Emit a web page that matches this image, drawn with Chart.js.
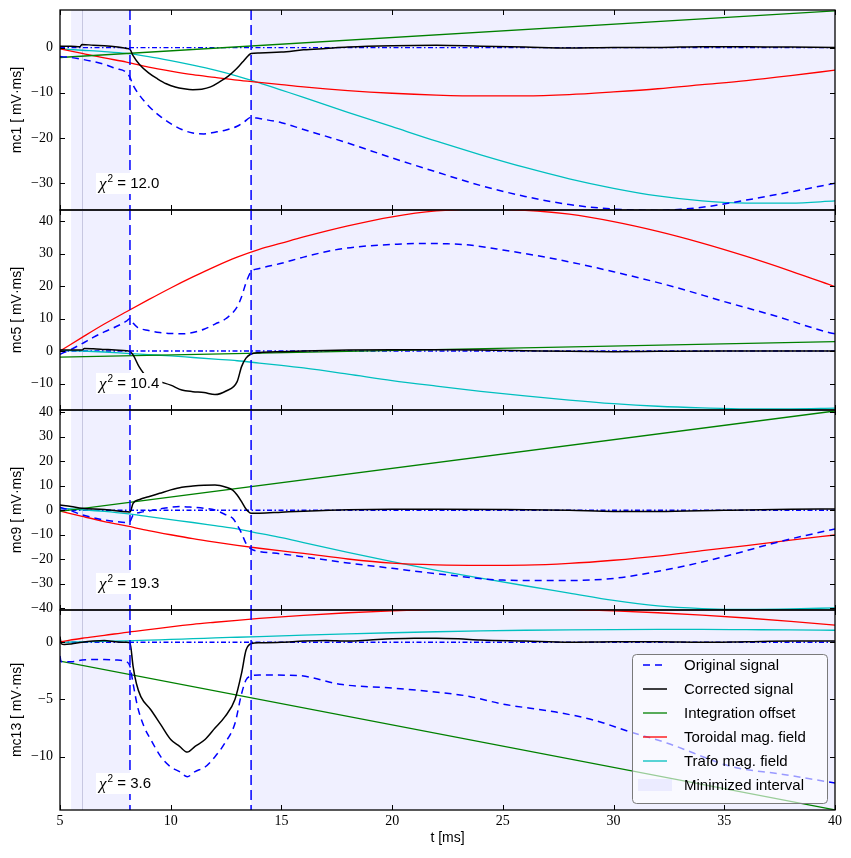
<!DOCTYPE html>
<html><head><meta charset="utf-8">
<script src="https://cdn.jsdelivr.net/npm/chart.js@4.4.1/dist/chart.umd.min.js"></script>
<style>
html,body{margin:0;padding:0;background:#fff;}
#wrap{position:relative;width:851px;height:858px;overflow:hidden;background:#fff;}
canvas{position:absolute;left:0;}
</style></head><body><div id="wrap">
<canvas id="c0" width="851" height="220" style="top:0px"></canvas>
<canvas id="c1" width="851" height="220" style="top:200px"></canvas>
<canvas id="c2" width="851" height="220" style="top:400px"></canvas>
<canvas id="c3" width="851" height="258" style="top:600px"></canvas>
</div>
<script>
// ---------- shared ----------
const timeAxisTicks = [5, 10, 15, 20, 25, 30, 35, 40];
const cutTimes = [8.16, 13.63];
const minimizedIntervals = [[5.5, 8.16], [13.63, 40]];
const intervalEdges = [6.0];
const fitTimes = [5,6,7,8,9,10,11,12,13,14,15,16,18,20,22,24,26,28,30,32,34,36,38,40];
const offsetTimes = [5, 40];
const zeroTimes = [5, 40];
const zeroValues = [0, 0];
const legendLabels = ['Original signal', 'Corrected signal', 'Integration offset', 'Toroidal mag. field', 'Trafo mag. field', 'Minimized interval'];

// ---------- mc1 ----------
const mc1OrigT = [5,5.5,6,6.5,7,7.5,8,8.16,8.3,8.6,9,9.5,10,10.5,11,11.5,12,12.5,13,13.3,13.63,14,15,16,18,20,22,24,26,28,30,32,34,36,38,40];
const mc1Orig = [-2.0,-2.2,-2.6,-3.1,-3.7,-4.6,-5.5,-6.6,-8.3,-10.6,-12.9,-15.1,-16.8,-18.1,-18.9,-19.1,-18.7,-18.2,-17.4,-16.5,-15.4,-15.7,-16.6,-18.1,-21.1,-24.4,-27.5,-30.5,-32.9,-34.7,-35.7,-36.0,-35.3,-33.7,-31.9,-30.0];
const mc1CorrT = [5,5.5,5.9,6.0,6.5,7,7.5,8,8.16,8.3,8.6,9,9.4,9.8,10.2,10.6,11,11.4,11.8,12.2,12.6,12.9,13.1,13.3,13.5,13.63,14,15,16,17,18,20,22,24,26,28,30,32,34,36,38,40];
const mc1Corr = [0.3,0.3,0.2,0.7,0.5,0.4,0.2,-0.2,-0.4,-1.8,-3.8,-5.6,-6.9,-8.0,-8.7,-9.1,-9.3,-9.2,-8.7,-7.6,-6.3,-5.0,-4.0,-2.9,-1.8,-1.3,-1.2,-1.0,-0.5,-0.2,0.1,0.4,0.5,0.3,0.1,-0.1,0.0,0.0,0.2,0.2,0.1,0.0];
const mc1Offset = [-2.2, 8.1];
const mc1Toroidal = [-0.3,-1.3,-2.3,-3.2,-4.3,-5.2,-6.0,-6.6,-7.2,-7.7,-8.2,-8.7,-9.5,-10.1,-10.5,-10.7,-10.7,-10.4,-9.8,-9.1,-8.2,-7.3,-6.2,-5.0];
const mc1Trafo = [-0.3,-0.6,-0.9,-1.3,-2.0,-2.9,-3.9,-5.0,-6.3,-7.8,-9.4,-11.0,-14.3,-17.5,-20.7,-23.7,-26.5,-29.0,-31.1,-32.8,-33.9,-34.4,-34.4,-33.9];
const mc1Ticks = [-30, -20, -10, 0];
const mc1Range = [-35.9, 8.3];

// ---------- mc5 ----------
const mc5OrigT = [5,5.5,6,6.5,7,7.5,8,8.16,8.3,8.5,9,9.5,10,10.5,11,11.5,12,12.5,13,13.2,13.4,13.63,14,15,16,17.4,19,20,21.2,22.5,23.5,25,27.6,30,32.7,35,37.4,39.6,40];
const mc5Orig = [-1.0,0.5,2.3,4.2,5.9,7.4,9.2,10.0,8.6,7.3,6.3,5.7,5.4,5.3,5.7,6.7,8.3,10.0,13.6,16.7,21.0,24.4,25.4,27.0,28.9,31.1,32.4,32.8,33.1,33.0,32.6,31.1,28.0,24.4,19.8,15.2,10.6,5.9,5.3];
const mc5CorrT = [5,5.5,6.0,6.1,6.5,7,7.5,8,8.16,8.3,8.57,8.92,9.5,10,10.5,11,11.5,12,12.5,13,13.2,13.4,13.63,14,15,16,18,20,22,24,26,28,30,32,35,40];
const mc5Corr = [0.3,0.3,0.3,0.8,0.7,0.5,0.3,0.1,-0.2,-1.2,-4.8,-7.9,-9.4,-10.5,-12.0,-12.5,-12.8,-13.4,-12.3,-9.4,-4.8,-2.2,-0.9,-0.5,-0.2,0.0,0.3,0.4,0.4,0.3,0.1,-0.1,-0.2,-0.1,0.0,0.0];
const mc5Offset = [-1.9, 2.9];
const mc5Toroidal = [0,4.2,8.3,12.1,15.8,19.4,22.8,26.0,28.9,31.3,33.2,35.1,38.5,41.3,43.1,43.7,43.3,42.1,39.8,36.8,33.2,29.1,24.6,19.8];
const mc5Trafo = [0.2,0,-0.3,-0.7,-1.1,-1.5,-2.0,-2.5,-3.0,-3.7,-4.4,-5.2,-7.1,-9.1,-10.8,-12.4,-13.8,-15.1,-16.2,-17.0,-17.5,-17.8,-17.8,-17.6];
const mc5Ticks = [-10, 0, 10, 20, 30, 40];
const mc5Range = [-18.15, 43.4];

// ---------- mc9 ----------
const mc9OrigT = [5,5.5,6,6.5,7,7.5,8,8.16,8.3,8.6,9,9.5,10,10.5,11,11.5,12,12.5,12.8,13,13.2,13.4,13.63,14,15,16,18,20,22.5,25,27.6,30,32.7,35,37.5,40];
const mc9Orig = [1.2,-0.2,-1.9,-3.0,-4.0,-4.6,-5.0,-4.6,-2.0,-0.9,-0.3,0.5,1.2,1.5,1.2,0.8,0.1,-1.9,-3.3,-6.0,-9.4,-13.5,-15.8,-16.8,-17.8,-19.0,-21.5,-23.7,-26.4,-28.5,-28.7,-27.8,-23.7,-18.9,-12.8,-7.6];
const mc9CorrT = [5,5.5,6,7,8,8.16,8.3,8.6,9,9.5,10,10.5,11,11.5,12,12.5,12.8,13,13.2,13.4,13.63,14,15,16,18,20,22,25,28,30,32,35,38,40];
const mc9Corr = [2.1,1.5,0.8,0.3,-0.6,-0.7,2.8,4.4,5.5,6.9,8.3,9.4,9.9,10.2,10.3,9.4,8.2,6.2,3.5,0.5,-1.2,-1.2,-0.8,-0.4,0.2,0.4,0.4,0.3,0.0,-0.5,-0.5,0.0,0.4,0.5];
const mc9Offset = [-0.5, 40.5];
const mc9Toroidal = [-0.3,-2.5,-4.6,-6.4,-8.3,-10.0,-11.6,-13.0,-14.3,-15.5,-16.6,-17.6,-19.9,-21.6,-22.3,-22.5,-22.4,-21.7,-20.4,-18.7,-16.5,-14.4,-12.2,-10.1];
const mc9Trafo = [0.8,0.2,-0.5,-1.4,-2.6,-3.8,-5.0,-6.3,-7.6,-9.4,-11.2,-13.2,-17.2,-21.0,-24.5,-27.7,-30.8,-33.8,-36.8,-39.0,-40.1,-40.5,-40.3,-39.8];
const mc9Ticks = [-40, -30, -20, -10, 0, 10, 20, 30, 40];
const mc9Range = [-40.7, 40.9];

// ---------- mc13 ----------
const mc13OrigT = [5,5.05,5.5,6,7,7.5,8,8.16,8.3,8.5,8.8,9.1,9.55,10,10.4,10.75,11.1,11.55,12,12.45,12.9,13.2,13.4,13.65,14,15.7,17.75,20,22.2,23.4,25,27.4,29.1,30.7,32.4,35.4,37.5,40];
const mc13Orig = [-1.2,-1.7,-1.7,-1.55,-1.5,-1.55,-1.7,-2.1,-3.6,-5.6,-7.4,-8.5,-10.0,-10.9,-11.3,-11.75,-11.3,-10.9,-10.0,-8.8,-7.1,-4.5,-3.3,-2.95,-2.86,-2.9,-3.7,-4.0,-4.4,-4.7,-5.4,-6.1,-6.8,-7.8,-8.8,-10.9,-11.5,-12.3];
const mc13CorrT = [5,5.05,5.2,5.5,6,6.5,7,7.5,8,8.16,8.3,8.45,8.65,9.1,9.55,10,10.4,10.75,11.1,11.55,12,12.45,12.9,13.2,13.4,13.65,14,15,16,17,18,19,20,21,22,23,24,26,28,30,32,34,36,38,40];
const mc13Corr = [0.5,-0.1,-0.2,-0.15,0.0,0.1,0.15,0.05,0.0,-0.05,-2.1,-3.6,-4.75,-5.9,-7.2,-8.5,-9.1,-9.6,-9.1,-8.5,-7.5,-6.5,-5.0,-2.7,-0.7,-0.1,-0.05,0.0,0.1,0.15,0.1,0.2,0.3,0.35,0.35,0.3,0.2,0.1,0.0,0.05,0.05,0.0,0.05,0.1,0.1];
const mc13Offset = [-1.64, -14.65];
const mc13Toroidal = [0.05,0.35,0.6,0.87,1.1,1.35,1.57,1.75,1.92,2.08,2.22,2.35,2.58,2.75,2.87,2.93,2.93,2.87,2.75,2.58,2.37,2.12,1.83,1.5];
const mc13Trafo = [0,0.04,0.08,0.12,0.18,0.25,0.31,0.38,0.44,0.5,0.56,0.62,0.73,0.83,0.92,0.99,1.05,1.09,1.11,1.12,1.12,1.1,1.08,1.05];
const mc13Ticks = [-10, -5, 0];
const mc13Range = [-14.66, 2.82];

const panelNames = ['mc1', 'mc5', 'mc9', 'mc13'];
const chi2Values = ['12.0', '10.4', '19.3', '3.6'];

// ---------- styles ----------
const SANS = '"Liberation Sans", Arial, sans-serif';
const SERIF = '"Liberation Serif", "DejaVu Serif", serif';
const SHADE = 'rgba(0,0,255,0.058)';
const C_BLUE = '#0000ff', C_BLACK = '#000000', C_GREEN = '#008000', C_RED = '#ff0000', C_CYAN = '#00bfbf';
const DASH_ORIG = [7, 5];

const panels = [
  {orig:[mc1OrigT, mc1Orig], corr:[mc1CorrT, mc1Corr], off:mc1Offset, tor:mc1Toroidal, tra:mc1Trafo, ticks:mc1Ticks, range:mc1Range},
  {orig:[mc5OrigT, mc5Orig], corr:[mc5CorrT, mc5Corr], off:mc5Offset, tor:mc5Toroidal, tra:mc5Trafo, ticks:mc5Ticks, range:mc5Range},
  {orig:[mc9OrigT, mc9Orig], corr:[mc9CorrT, mc9Corr], off:mc9Offset, tor:mc9Toroidal, tra:mc9Trafo, ticks:mc9Ticks, range:mc9Range},
  {orig:[mc13OrigT, mc13Orig], corr:[mc13CorrT, mc13Corr], off:mc13Offset, tor:mc13Toroidal, tra:mc13Trafo, ticks:mc13Ticks, range:mc13Range}
];

function pts(t, v) { return t.map((x, i) => ({x: x, y: v[i]})); }
function fmt(v) { return v < 0 ? '\u2212' + Math.abs(v) : String(v); }

const shadePlugin = {
  id: 'shade',
  beforeDatasetsDraw(chart) {
    const {ctx, chartArea: a, scales: {x}} = chart;
    ctx.save();
    ctx.beginPath(); ctx.rect(a.left, a.top, a.width, a.height); ctx.clip();
    ctx.fillStyle = SHADE;
    minimizedIntervals.forEach(([s, e]) => {
      const x0 = x.getPixelForValue(s), x1 = x.getPixelForValue(e);
      ctx.fillRect(x0, a.top, x1 - x0, a.height);
    });
    ctx.strokeStyle = 'rgba(120,120,170,0.35)'; ctx.lineWidth = 1;
    intervalEdges.forEach(t => {
      const px = Math.round(x.getPixelForValue(t)) + 0.5;
      ctx.beginPath(); ctx.moveTo(px, a.top); ctx.lineTo(px, a.bottom); ctx.stroke();
    });
    ctx.restore();
  }
};

const cutPlugin = {
  id: 'cuts',
  afterDatasetsDraw(chart) {
    const {ctx, chartArea: a, scales: {x}} = chart;
    ctx.save();
    ctx.strokeStyle = C_BLUE; ctx.lineWidth = 1.5; ctx.setLineDash([10, 5]);
    cutTimes.forEach(t => {
      const px = x.getPixelForValue(t);
      ctx.beginPath(); ctx.moveTo(px, a.top); ctx.lineTo(px, a.bottom); ctx.stroke();
    });
    ctx.restore();
  }
};

function makeChiPlugin(text) {
  return {
    id: 'chi',
    afterDatasetsDraw(chart) {
      const {ctx, chartArea: a} = chart;
      const bx = a.left + 36, cy = a.bottom - 27;
      ctx.save();
      const f1 = 'italic 17px ' + SERIF, f2 = '10px ' + SANS, f3 = '15px ' + SANS;
      ctx.font = f1; const w1 = ctx.measureText('\u03c7').width;
      ctx.font = f2; const w2 = ctx.measureText('2').width;
      const rest = ' = ' + text;
      ctx.font = f3; const w3 = ctx.measureText(rest).width;
      const total = w1 + 1 + w2 + w3;
      ctx.fillStyle = '#ffffff';
      ctx.fillRect(bx, cy - 10, total + 6, 21);
      ctx.fillStyle = '#000';
      ctx.textBaseline = 'alphabetic';
      const base = cy + 5;
      let cx = bx + 3;
      ctx.font = f1; ctx.fillText('\u03c7', cx, base + 1); cx += w1 + 1;
      ctx.font = f2; ctx.fillText('2', cx, base - 6); cx += w2;
      ctx.font = f3; ctx.fillText(rest, cx, base);
      ctx.restore();
    }
  };
}

function makeFramePlugin(ticks) {
  return {
    id: 'frame',
    afterDraw(chart) {
      const {ctx, chartArea: a, scales: {x, y}} = chart;
      ctx.save();
      ctx.strokeStyle = '#000'; ctx.lineWidth = 1;
      ctx.beginPath();
      timeAxisTicks.forEach(v => {
        const px = Math.round(x.getPixelForValue(v)) + 0.5;
        ctx.moveTo(px, a.top); ctx.lineTo(px, a.top + 5);
        ctx.moveTo(px, a.bottom); ctx.lineTo(px, a.bottom - 5);
      });
      ticks.forEach(v => {
        const py = Math.round(y.getPixelForValue(v)) + 0.5;
        ctx.moveTo(a.left, py); ctx.lineTo(a.left + 5, py);
        ctx.moveTo(a.right, py); ctx.lineTo(a.right - 5, py);
      });
      ctx.stroke();
      ctx.lineWidth = 1.3;
      ctx.strokeRect(a.left, a.top, a.right - a.left, a.bottom - a.top);
      ctx.restore();
    }
  };
}

const legendPlugin = {
  id: 'customLegend',
  afterDraw(chart) {
    const {ctx, chartArea: a} = chart;
    const w = 195, h = 149;
    const lx = a.right - 8 - w, ly = a.bottom - 7 - h;
    ctx.save();
    ctx.beginPath();
    if (ctx.roundRect) ctx.roundRect(lx + 0.5, ly + 0.5, w, h, 4); else ctx.rect(lx + 0.5, ly + 0.5, w, h);
    ctx.fillStyle = 'rgba(255,255,255,0.6)'; ctx.fill();
    ctx.strokeStyle = '#7a7a7a'; ctx.lineWidth = 1; ctx.stroke();
    const ds = chart.data.datasets.filter(d => d.inLegend)
      .sort((d1, d2) => legendLabels.indexOf(d1.label) - legendLabels.indexOf(d2.label));
    ctx.font = '15px ' + SANS; ctx.textBaseline = 'middle'; ctx.fillStyle = '#000';
    ds.forEach((d, i) => {
      const ry = ly + 11 + i * 24;
      ctx.strokeStyle = d.borderColor; ctx.lineWidth = d.borderWidth;
      ctx.setLineDash(d.borderDash || []);
      ctx.beginPath(); ctx.moveTo(lx + 11, ry); ctx.lineTo(lx + 35, ry); ctx.stroke();
      ctx.setLineDash([]);
      ctx.fillText(d.label, lx + 52, ry + 1);
    });
    const ry = ly + 11 + ds.length * 24;
    ctx.fillStyle = SHADE; ctx.fillRect(lx + 6, ry - 6, 34, 12);
    ctx.fillStyle = '#000'; ctx.fillText(legendLabels[5], lx + 52, ry + 1);
    ctx.restore();
  }
};

panels.forEach((p, i) => {
  const isBottom = i === panels.length - 1;
  const datasets = [
    {label: '', data: pts(zeroTimes, zeroValues), borderColor: C_BLUE, borderWidth: 1.3, borderDash: [5, 2.5, 1.5, 2.5], order: 7},
    {label: legendLabels[4], inLegend: true, data: pts(fitTimes, p.tra), borderColor: C_CYAN, borderWidth: 1.3, order: 6, cubicInterpolationMode: 'monotone'},
    {label: legendLabels[3], inLegend: true, data: pts(fitTimes, p.tor), borderColor: C_RED, borderWidth: 1.3, order: 5, cubicInterpolationMode: 'monotone'},
    {label: legendLabels[2], inLegend: true, data: pts(offsetTimes, p.off), borderColor: C_GREEN, borderWidth: 1.3, order: 4},
    {label: legendLabels[1], inLegend: true, data: pts(p.corr[0], p.corr[1]), borderColor: C_BLACK, borderWidth: 1.5, order: 2, cubicInterpolationMode: 'monotone'},
    {label: legendLabels[0], inLegend: true, data: pts(p.orig[0], p.orig[1]), borderColor: C_BLUE, borderWidth: 1.5, borderDash: DASH_ORIG, order: 3, cubicInterpolationMode: 'monotone'}
  ].map(d => Object.assign({showLine: true, pointRadius: 0, fill: false}, d));
  new Chart(document.getElementById('c' + i), {
    type: 'scatter',
    data: {datasets: datasets},
    options: {
      responsive: false, animation: false, devicePixelRatio: 1,
      layout: {padding: {left: 0, right: 16, top: 10, bottom: isBottom ? 0 : 10}},
      plugins: {legend: {display: false}, tooltip: {enabled: false}},
      scales: {
        x: {
          type: 'linear', min: 5, max: 40, display: isBottom,
          grid: {display: false, drawTicks: false}, border: {display: false},
          afterBuildTicks: s => { s.ticks = timeAxisTicks.map(v => ({value: v})); },
          afterFit: s => { if (isBottom) s.height = 48; s.paddingLeft = 0; s.paddingRight = 0; s.paddingTop = 0; s.paddingBottom = 0; },
          ticks: {font: {family: SERIF, size: 14}, color: '#000', padding: 3, maxRotation: 0, autoSkip: false},
          title: {display: true, text: 't [ms]', font: {family: SANS, size: 14}, color: '#000', padding: {top: 0, bottom: 11}}
        },
        y: {
          type: 'linear', min: p.range[0], max: p.range[1],
          grid: {display: false, drawTicks: false}, border: {display: false},
          afterBuildTicks: s => { s.ticks = p.ticks.map(v => ({value: v})); },
          afterFit: s => { s.width = 60; s.paddingTop = 0; s.paddingBottom = 0; s.paddingLeft = 0; s.paddingRight = 0; },
          ticks: {font: {family: SERIF, size: 14}, color: '#000', padding: 7, callback: fmt, autoSkip: false},
          title: {display: true, text: panelNames[i] + ' [ mV\u00b7ms]', font: {family: SANS, size: 14}, color: '#000', padding: {top: 9, bottom: 0}}
        }
      }
    },
    plugins: [shadePlugin, cutPlugin, makeChiPlugin(chi2Values[i]), makeFramePlugin(p.ticks)].concat(isBottom ? [legendPlugin] : [])
  });
});
</script>
</body></html>
